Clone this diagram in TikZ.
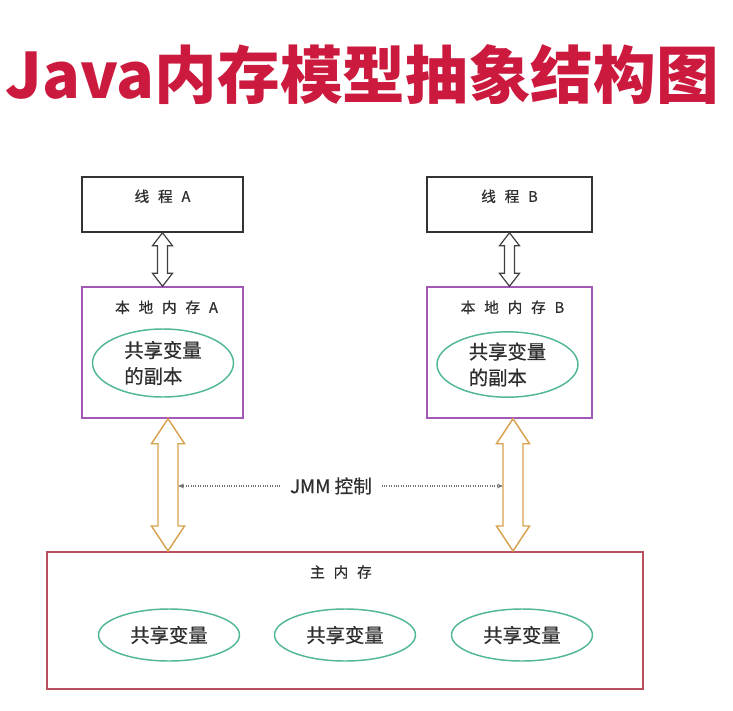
\documentclass[tikz,border=0pt]{standalone}
\usepackage{fontspec}
\setmainfont{Noto Sans CJK SC}
\newfontfamily\labelfont{Noto Sans CJK SC}[FakeBold=0.6]
\usetikzlibrary{calc,arrows.meta,shapes.geometric}

\definecolor{titlered}{HTML}{CC1A3F}
\definecolor{localpurple}{HTML}{A259B5}
\definecolor{varteal}{HTML}{52B891}
\definecolor{mainred}{HTML}{B9505E}
\definecolor{syncorange}{HTML}{D9A24E}
\definecolor{labelgray}{HTML}{2E2E2E}

% spacing between the letters of box labels
\newcommand{\lsp}{\hspace{0.6em}}

\tikzset{
  threadbox/.style={draw=black!80, line width=1.1pt, minimum height=41.25pt, inner sep=0pt},
  localbox/.style={draw=localpurple, line width=1.1pt, minimum width=120.75pt, minimum height=98.25pt, inner sep=0pt},
  mainbox/.style={draw=mainred, line width=1.5pt, minimum width=447pt, minimum height=102.75pt, inner sep=0pt},
  var/.style={draw=varteal, line width=1.1pt, ellipse, minimum width=105.75pt, inner sep=0pt, text=labelgray, font=\labelfont\fontsize{14.5}{19.5}\selectfont},
  boxlabel/.style={text=labelgray, font=\labelfont\fontsize{11}{12}\selectfont},
  thinarrow/.style={draw=black!75, fill=white, line width=0.9pt, line join=miter},
  fatarrow/.style={draw=syncorange, fill=white, line width=1.1pt, line join=miter},
  ctrl/.style={draw=black!55, densely dotted, line width=0.8pt, -{Stealth[length=4.5pt,width=3.5pt]}}
}

% hollow double arrow: top tip, bottom tip, shaft half width, head half width, head length, style
\newcommand{\hollowarrow}[6]{%
  \draw[#6] let \p1=#1, \p2=#2 in
    (\x1,\y1) -- (\x1+#4,\y1-#5) -- (\x1+#3,\y1-#5) -- (\x2+#3,\y2+#5) -- (\x2+#4,\y2+#5)
    -- (\x2,\y2) -- (\x2-#4,\y2+#5) -- (\x2-#3,\y2+#5) -- (\x1-#3,\y1-#5) -- (\x1-#4,\y1-#5) -- cycle;}

\begin{document}
\begin{tikzpicture}[x=0.75pt, y=-0.75pt]
\useasboundingbox (0,0) rectangle (733,711);
\fill[white] (0,0) rectangle (733,711);

% title
\node[text=titlered, font=\fontsize{47}{50}\selectfont\bfseries] (title) at (362,75) {Java内存模型抽象结构图};

% threads
\node[threadbox, minimum width=120.75pt] (threadA) at (162.5,204.5) {};
\node[threadbox, minimum width=123.75pt] (threadB) at (509.5,204.5) {};
\node[boxlabel] (threadAlabel) at ($(threadA.north)+(0,20)$) {线\lsp 程\lsp A};
\node[boxlabel] (threadBlabel) at ($(threadB.north)+(0,20)$) {线\lsp 程\lsp B};

% local memories
\node[localbox] (localA) at (162.5,352.5) {};
\node[localbox, minimum width=123.75pt] (localB) at (509.5,352.5) {};
\node[boxlabel] (localAlabel) at ($(localA.north)+(4,21)$) {本\lsp 地\lsp 内\lsp 存\lsp A};
\node[boxlabel] (localBlabel) at ($(localB.north)+(3,21)$) {本\lsp 地\lsp 内\lsp 存\lsp B};
\node[var, minimum height=51pt, align=left] (copyA) at (163,363) {共享变量\\的副本};
\node[var, minimum height=49pt, align=left] (copyB) at (507.5,364.5) {共享变量\\的副本};

% main memory
\node[mainbox] (mainMem) at (345,620.5) {};
\node[boxlabel] (mainLabel) at ($(mainMem.north)+(-4,21)$) {主\lsp 内\lsp 存};
\node[var, minimum height=39pt] (varA) at (169,635) {共享变量};
\node[var, minimum height=39pt] (varB) at (345,635) {共享变量};
\node[var, minimum height=39pt] (varC) at (522,635) {共享变量};

% thread <-> local
\hollowarrow{(threadA.south)}{(localA.north)}{3.75pt}{7.5pt}{9.75pt}{thinarrow}
\hollowarrow{(threadB.south)}{(localB.north)}{3.75pt}{7.5pt}{9.75pt}{thinarrow}

% local <-> main
\coordinate (syncA) at ($(localA.south)+(5.5,0)$);
\coordinate (syncB) at ($(localB.south)+(3.5,0)$);
\hollowarrow{(syncA)}{(syncA |- mainMem.north)}{7.5pt}{12.4pt}{18.75pt}{fatarrow}
\hollowarrow{(syncB)}{(syncB |- mainMem.north)}{7.5pt}{12.4pt}{18.75pt}{fatarrow}

% JMM control
\node[text=labelgray, font=\labelfont\fontsize{14}{16}\selectfont, inner xsep=7pt] (jmm) at (331,486) {JMM 控制};
\coordinate (jmmL) at ($(syncA)+(10,0)$);
\coordinate (jmmR) at ($(syncB)+(-10,0)$);
\draw[ctrl] (jmm.west) -- (jmm.west -| jmmL);
\draw[ctrl] (jmm.east) -- (jmm.east -| jmmR);
\end{tikzpicture}
\end{document}
